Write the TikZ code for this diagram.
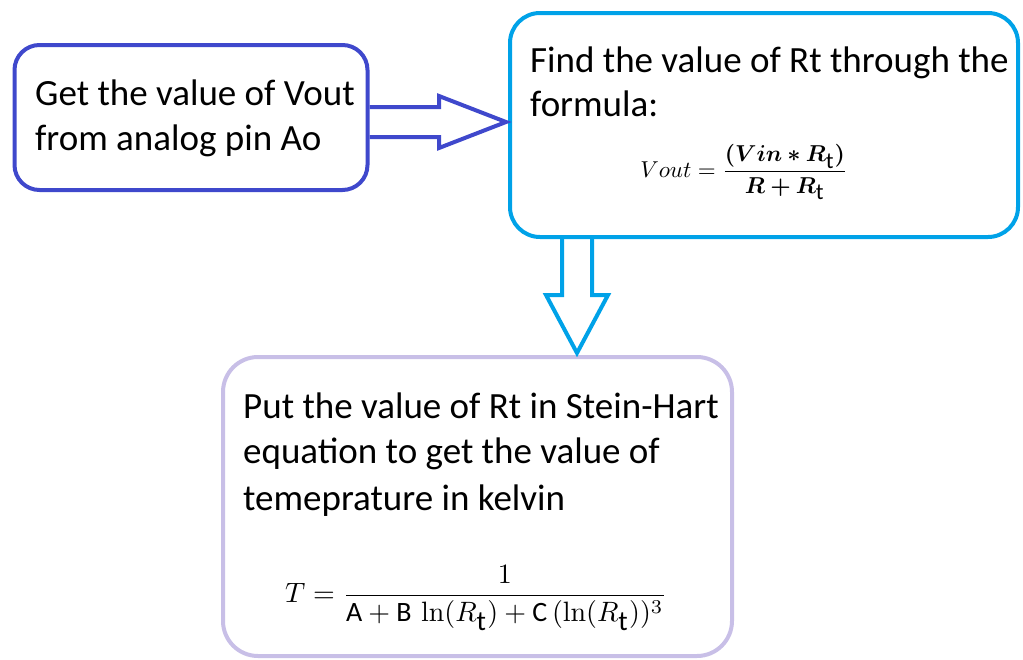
\documentclass[tikz,border=0pt]{standalone}
\usepackage{graphicx}
\usepackage{amsmath,bm}
\usepackage[no-math]{fontspec}
\setmainfont{Carlito}
\usetikzlibrary{calc}
\definecolor{cA}{HTML}{3F48CC}
\definecolor{cB}{HTML}{00A2E8}
\definecolor{cC}{HTML}{C8BFE7}
\newcommand{\subT}{{\text{\normalsize t}}}
\begin{document}
\begin{tikzpicture}[x=1pt,y=-1pt,
  boxA/.style={draw=cA, line width=4pt, rounded corners=25pt, inner sep=0pt},
  boxB/.style={draw=cB, line width=4pt, rounded corners=30pt, inner sep=0pt},
  boxC/.style={draw=cC, line width=4pt, rounded corners=35pt, inner sep=0pt},
  arrA/.style={draw=cA, line width=4pt, line join=miter},
  arrB/.style={draw=cB, line width=4pt, line join=miter},
  txt/.style={anchor=base west, inner sep=0pt, font=\fontsize{37}{45}\selectfont},
  frm/.style={inner sep=0pt}]
\useasboundingbox (0,0) rectangle (1023,659);
% boxes
\node[boxA, minimum width=353pt, minimum height=145pt] (a) at (191,117.5) {};
\node[boxB, minimum width=508pt, minimum height=224pt] (b) at (764,125) {};
\node[boxC, minimum width=509pt, minimum height=299pt] (c) at (477.5,506.5) {};
% texts
\node[txt] (a1) at (35,105) {Get the value of Vout};
\node[txt] (a2) at (35,150) {from analog pin Ao};
\node[txt] (b1) at (530,72) {Find the value of Rt through the};
\node[txt] (b2) at (530,116) {formula:};
\node[frm] (bf) at (744,172)
  {\scalebox{2.3}{$Vout=\dfrac{\bm{(}\bm{Vin\ast R}_{\subT}\bm{)}}{\bm{R+R}_{\subT}}$}};
\node[txt] (c1) at (243,418) {Put the value of Rt in Stein-Hart};
\node[txt] (c2) at (243,463) {equation to get the value of};
\node[txt] (c3) at (243,510) {temeprature in kelvin};
\node[frm] (cf) at (476,598)
  {\scalebox{2.8}{$T=\dfrac{1}{\text{A}+\text{B}\,\ln(R_{\subT})+\text{C}\,(\ln(R_{\subT}))^3}$}};
% arrow a -> b
\coordinate (t1) at ($(b.west)+(-2,-3)$);
\draw[arrA] ($(a.east|-t1)+(0,-15)$) -- ($(t1)+(-67,-15)$) -- ($(t1)+(-67,-26)$)
  -- (t1) -- ($(t1)+(-67,26)$) -- ($(t1)+(-67,15)$) -- ($(a.east|-t1)+(0,15)$);
% arrow b -> c
\coordinate (t2) at ($(c.north)+(99.5,-2)$);
\draw[arrB] ($(b.south-|t2)+(-15,0)$) -- ($(t2)+(-15,-58)$) -- ($(t2)+(-31,-58)$)
  -- (t2) -- ($(t2)+(31,-58)$) -- ($(t2)+(15,-58)$) -- ($(b.south-|t2)+(15,0)$);
\end{tikzpicture}
\end{document}
